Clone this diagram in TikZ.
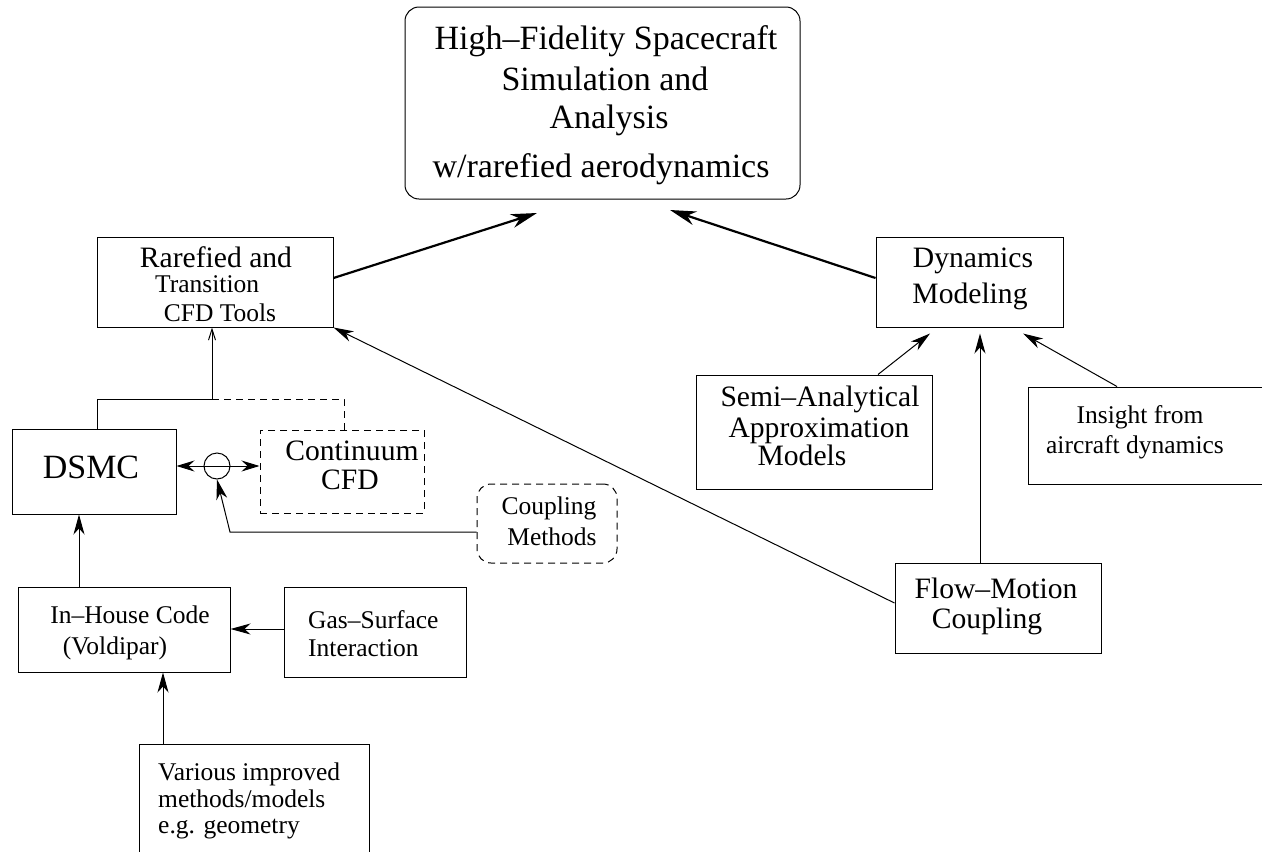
\documentclass[tikz,border=0pt]{standalone}
\usepackage{fontspec}
\setmainfont{Liberation Serif}
\usetikzlibrary{arrows.meta}
\begin{document}
\begin{tikzpicture}[x=1pt,y=-1pt,
  box/.style={draw, line width=1pt, inner sep=0pt},
  dbox/.style={box, dash pattern=on 7pt off 5pt},
  big/.style={font=\fontsize{34}{40}\selectfont},
  med/.style={font=\fontsize{29.6}{34}\selectfont},
  sml/.style={font=\fontsize{25.5}{30}\selectfont},
  txt/.style={anchor=base, inner sep=0pt},
  ltxt/.style={anchor=base west, inner sep=0pt},
  arr/.style={line width=1pt, -{Stealth[length=20pt,width=11pt,inset=6pt]}},
  barr/.style={line width=2.2pt, -{Stealth[length=26pt,width=14pt,inset=8pt]}},
  oarr/.style={line width=1pt, -{Straight Barb[length=11pt,width=7pt]}},
  darr/.style={line width=1pt, {Stealth[length=18pt,width=11pt,inset=6pt]}-{Stealth[length=18pt,width=11pt,inset=6pt]}},
  ddash/.style={line width=1pt, dash pattern=on 7pt off 5pt}]
\clip (0,0) rectangle (1262,852);

% boxes
\node[box, rounded corners=14pt, minimum width=395pt, minimum height=192pt] (top) at (602.5,103) {};
\node[box, minimum width=236pt, minimum height=90pt] (rare) at (215,282) {};
\node[box, minimum width=164pt, minimum height=85pt] (dsmc) at (94,471.5) {};
\node[dbox, minimum width=164pt, minimum height=83pt] (cont) at (342,471.5) {};
\node[dbox, rounded corners=14pt, minimum width=140pt, minimum height=79pt] (coup) at (547,523.5) {};
\node[box, minimum width=212pt, minimum height=85pt] (inh) at (124,629.5) {};
\node[box, minimum width=182pt, minimum height=90pt] (gas) at (375,632) {};
\node[box, minimum width=230pt, minimum height=136pt] (var) at (254,812) {};
\node[box, minimum width=187pt, minimum height=90pt] (dyn) at (969.5,282) {};
\node[box, minimum width=236pt, minimum height=114pt] (semi) at (814,432) {};
\node[box, minimum width=272pt, minimum height=97pt] (ins) at (1164,435.5) {};
\node[box, minimum width=206pt, minimum height=90pt] (flow) at (998,608) {};
\node[circle, draw, line width=1pt, minimum size=26pt, inner sep=0pt] (circ) at (217,466) {};

% texts
\node[txt, big] (t1) at (606,49) {High–Fidelity Spacecraft};
\node[txt, big] (t2) at (605,90) {Simulation and};
\node[txt, big] (t3) at (609,128) {Analysis};
\node[txt, big] (t4) at (601,177) {w/rarefied aerodynamics};

\node[txt, med] (r1) at (216,267) {Rarefied and};
\node[ltxt, sml] (r2) at (155,292) {Transition};
\node[txt, sml] (r3) at (220,321) {CFD Tools};

\node[txt, big] (d1) at (91,478) {DSMC};
\node[txt, med] (c1) at (352,460) {Continuum};
\node[txt, med] (c2) at (350,489) {CFD};
\node[txt, sml] (m1) at (549,514) {Coupling};
\node[txt, sml] (m2) at (552,545) {Methods};

\node[txt, sml] (i1) at (130,623) {In–House Code};
\node[txt, sml] (i2) at (115,654) {(Voldipar)};
\node[ltxt, sml] (g1) at (308,628) {Gas–Surface};
\node[ltxt, sml] (g2) at (308,656) {Interaction};
\node[ltxt, sml] (v1) at (158,780) {Various improved};
\node[ltxt, sml] (v2) at (158,807) {methods/models};
\node[ltxt, sml] (v3) at (158,833) {e.g. geometry};

\node[txt, med] (y1) at (973,267) {Dynamics};
\node[txt, med] (y2) at (970,303) {Modeling};
\node[txt, med] (s1) at (820,406) {Semi–Analytical};
\node[txt, med] (s2) at (819,437) {Approximation};
\node[txt, med] (s3) at (802,465) {Models};
\node[txt, sml] (n1) at (1140,423) {Insight from};
\node[txt, sml] (n2) at (1135,453) {aircraft dynamics};
\node[txt, med] (f1) at (996,598) {Flow–Motion};
\node[txt, med] (f2) at (987,628) {Coupling};

% connectors
\coordinate (tipL) at (537,213);
\coordinate (tipR) at (670,210);
\draw[barr] ([yshift=4pt]rare.east) -- (tipL);
\draw[barr] ([yshift=4pt]dyn.west) -- (tipR);

\coordinate (j) at (212,399);
\draw[line width=1pt] ([xshift=3pt]dsmc.north) |- (j);
\draw[oarr] (j) -- (j |- rare.south);
\draw[ddash] (j) -| ([xshift=2pt]cont.north);

\draw[darr] (circ -| dsmc.east) -- (circ -| cont.west);
\coordinate (cb) at (230,532);
\draw[arr] (coup.west |- cb) -- (cb) -- (circ.south);

\draw[arr] ([xshift=-45pt]inh.north) -- ([xshift=-45pt]inh.north |- dsmc.south);
\draw[arr] ([yshift=3pt]gas.west) -- ([yshift=3pt]gas.west -| inh.east);
\draw[arr] ([xshift=-91pt]var.north) -- ([xshift=-91pt]var.north |- inh.south);

\draw[arr] ([yshift=5pt]flow.west) -- (rare.south east);
\draw[arr] ([xshift=64pt]semi.north) -- ([xshift=-39.5pt,yshift=-6pt]dyn.south);
\draw[arr] ([xshift=-18pt]flow.north) -- ([xshift=10.5pt,yshift=-6pt]dyn.south);
\draw[arr] ([xshift=-47pt]ins.north) -- ([xshift=53.5pt,yshift=-6pt]dyn.south);
\end{tikzpicture}
\end{document}
